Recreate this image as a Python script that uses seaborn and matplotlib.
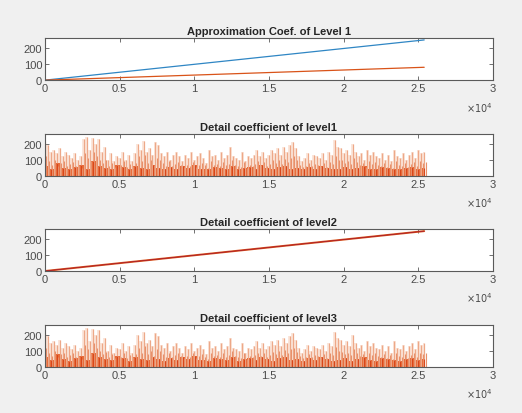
import numpy as np
import pandas as pd
import matplotlib
matplotlib.use("Agg")
import matplotlib.pyplot as plt
import seaborn as sns

# ---- data ----
titles = ["Approximation Coef. of Level 1", "Detail coefficient of level1",
          "Detail coefficient of level2", "Detail coefficient of level3"]
x_ticks = [0, 5000, 10000, 15000, 20000, 25000, 30000]
x_tick_labels = ["0", "0.5", "1", "1.5", "2", "2.5", "3"]
y_ticks = [0, 100, 200]
y_tick_labels = ["0", "100", "200"]

n_samples = 25400
approx_x = [0, 25400]
approx_blue = [0, 250]
approx_orange = [0, 80]
level2_x = [0, 25400]
level2_line = [0, 248]

detail_peaks = [210, 190, 150, 160, 140, 170, 120, 150, 130, 110, 140, 100, 120,
                230, 240, 160, 235, 200, 230, 150, 180,
                100, 140, 90, 120, 110, 150, 100, 130, 90, 140,
                200, 160, 215, 150, 170, 130, 210, 190, 140, 120,
                150, 100, 130, 150, 120, 90, 130, 110, 150, 100,
                120, 140, 110, 80, 160, 120, 130, 100, 150, 110,
                130, 180, 120, 110, 100, 150, 90, 120, 110, 130,
                160, 120, 150, 110, 130, 160, 140, 170, 130, 180,
                150, 190, 210, 170, 120, 90, 110, 140, 100, 130,
                120, 110, 140, 100, 150, 130, 220, 180, 170, 140,
                160, 130, 200, 150, 120, 140, 100, 160, 130, 150,
                120, 110, 140, 100, 130, 90, 160, 120, 110, 140,
                100, 130, 150, 110, 160, 140, 150]
detail_mid = [120, 90, 70, 100, 60, 80, 90, 60, 75, 85, 60, 70, 50,
              140, 110, 90, 150, 120, 100, 80, 95,
              60, 80, 55, 70, 65, 90, 55, 75, 60, 80,
              120, 90, 130, 80, 100, 70, 110, 100, 80, 60,
              90, 60, 75, 85, 70, 55, 70, 60, 85, 55,
              70, 80, 65, 50, 90, 70, 75, 60, 85, 65,
              75, 100, 70, 60, 55, 85, 50, 70, 60, 75,
              90, 70, 85, 60, 75, 95, 80, 100, 75, 105,
              85, 110, 120, 95, 70, 55, 60, 80, 60, 75,
              70, 60, 80, 55, 85, 75, 125, 100, 95, 80,
              90, 75, 110, 85, 70, 80, 55, 90, 75, 85,
              70, 60, 80, 55, 75, 50, 90, 70, 60, 80,
              55, 75, 85, 60, 90, 80, 85]
detail_base = [60, 45, 80, 50, 40, 55, 70, 45, 90, 60, 50, 45, 70, 55, 40, 60,
               50, 45, 65, 50, 40, 55, 45, 60, 50, 70, 45, 40, 55, 50, 45, 60,
               40, 50, 55, 45, 65, 50, 40, 55, 60, 45, 50, 40, 55, 45, 60, 50,
               40, 45, 55, 40, 50, 60, 45, 40, 55, 50, 45, 40, 50, 55, 45, 50]

# ---- style ----
sns.set_theme(style="white")
plt.rcParams["font.family"] = ["Liberation Sans", "DejaVu Sans"]
BLUE = "#2F86C4"
ORANGE = "#D95319"
AXC = "#5a5a5a"

fig = plt.figure(figsize=(5.22, 4.14), dpi=100, facecolor="#f0f0f0")
bottoms = [0.804, 0.573, 0.343, 0.111]
axes = [fig.add_axes([0.0862, b, 0.858, 0.101]) for b in bottoms]

def style(ax, title):
    ax.set_facecolor("white")
    ax.set_xlim(0, 30000)
    ax.set_ylim(0, 260)
    ax.set_xticks(x_ticks)
    ax.set_xticklabels(x_tick_labels)
    ax.set_yticks(y_ticks)
    ax.set_yticklabels(y_tick_labels)
    ax.tick_params(direction="in", length=3, width=0.6, colors=AXC,
                   labelsize=8, labelcolor="#4a4a4a", top=True, right=True,
                   bottom=True, left=True, pad=2)
    for s in ax.spines.values():
        s.set_color(AXC)
        s.set_linewidth(0.8)
    ax.set_xlabel("")
    ax.set_ylabel("")
    ax.set_title(title, fontsize=8, fontweight="bold", color="#262626", pad=3)
    ax.text(1.0, -0.47, r"$\times10^4$", transform=ax.transAxes, ha="right",
            va="top", fontsize=7, color="#4a4a4a")

# plot 1
ax = axes[0]
df1 = pd.DataFrame({"x": approx_x, "blue": approx_blue, "orange": approx_orange})
sns.lineplot(data=df1, x="x", y="blue", ax=ax, color=BLUE, lw=0.9)
sns.lineplot(data=df1, x="x", y="orange", ax=ax, color=ORANGE, lw=0.9)
style(ax, titles[0])

# detail plots
def detail(ax, title):
    xp = np.linspace(0, n_samples, len(detail_peaks))
    xm = np.linspace(0, n_samples, len(detail_mid))
    xb = np.linspace(0, n_samples, len(detail_base))
    ax.fill_between(xp, 0, detail_peaks, step="mid", color="#FBE6DB", lw=0)
    ax.vlines(xp, 0, detail_peaks, color="#EDA888", lw=0.9)
    ax.vlines(xm + 100, 0, detail_mid, color="#E8906A", lw=0.8)
    ax.fill_between(xb, 0, detail_base, step="mid", color="#E8642E", lw=0)
    ax.vlines(xb, 0, detail_base, color="#D8461A", lw=0.8)
    style(ax, title)

detail(axes[1], titles[1])

# plot 3
ax = axes[2]
df3 = pd.DataFrame({"x": level2_x, "y": level2_line})
sns.lineplot(data=df3, x="x", y="y", ax=ax, color=ORANGE, lw=1.4)
sns.lineplot(data=df3, x="x", y="y", ax=ax, color="#A2142F", lw=0.5)
style(ax, titles[2])

detail(axes[3], titles[3])

fig.savefig("out.png", dpi=100, facecolor=fig.get_facecolor())
